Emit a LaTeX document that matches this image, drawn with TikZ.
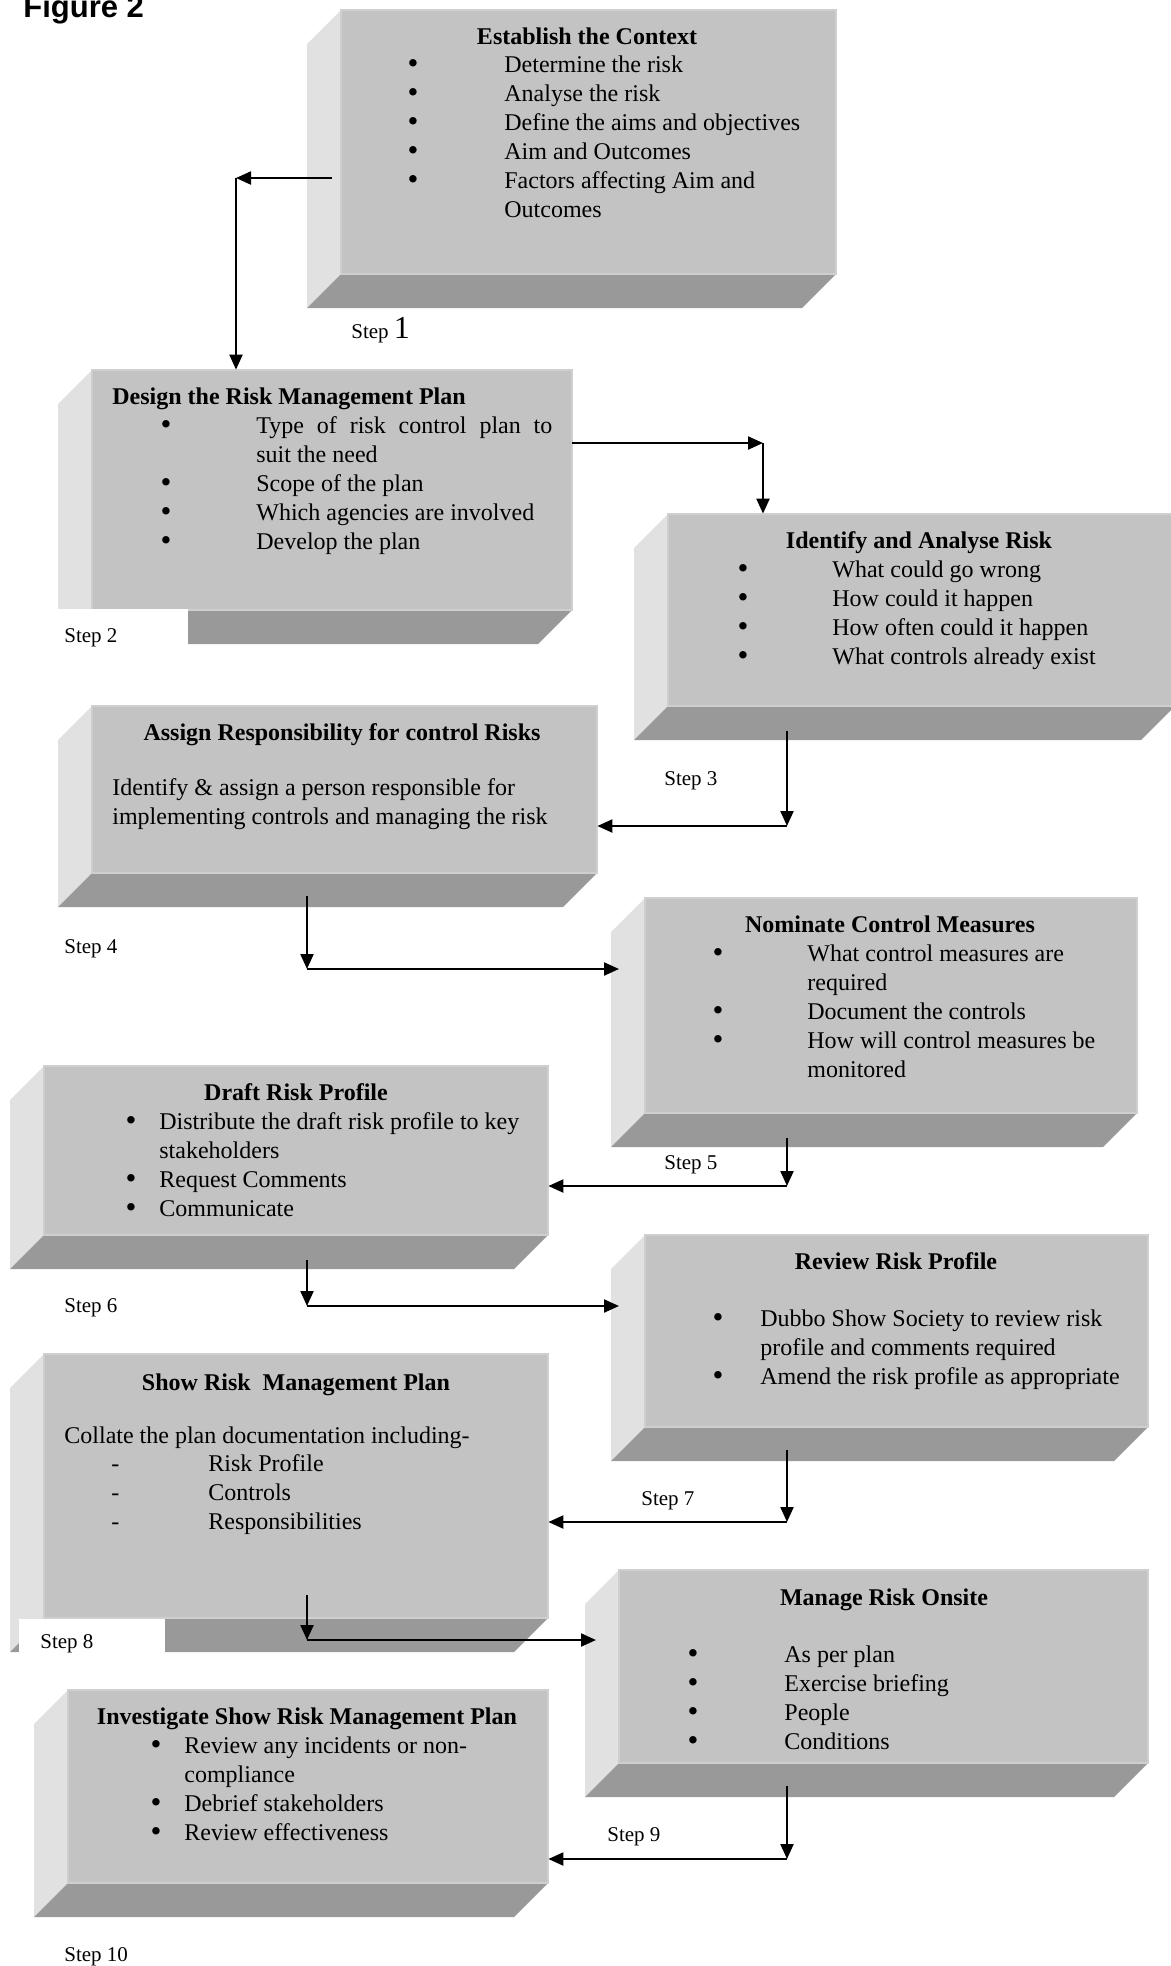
\documentclass[tikz,border=0pt]{standalone}
\usepackage{fontspec}
\setmainfont{Liberation Serif}
\newfontfamily\figfont{Liberation Sans}
\usetikzlibrary{arrows.meta,fit,calc}
\definecolor{frontgray}{RGB}{195,195,195}
\definecolor{sidegray}{RGB}{225,225,225}
\definecolor{botgray}{RGB}{153,153,153}
\definecolor{edgegray}{RGB}{207,207,207}
\newcommand\bevbox[5]{%
  \fill[sidegray] (#2,#3+34) -- (#2+34,#3) -- (#2+34,#5-34) -- (#2,#5) -- cycle;
  \fill[botgray] (#2,#5) -- (#2+34,#5-34) -- (#4,#5-34) -- (#4-34,#5) -- cycle;
  \filldraw[fill=frontgray,draw=edgegray,line width=0.6pt] (#2+34,#3) rectangle (#4,#5-34);
  \node[fit={(#2,#3) (#4,#5)}, inner sep=0pt] (#1) {};
}
\newcommand\bl{\hspace*{-0.4pt}\raisebox{-0.5pt}{\fontsize{15.5}{14.5}\selectfont\textbullet}}
\tikzset{
  body/.style={inner sep=0pt, anchor=base west, font=\fontsize{12}{14.5}\selectfont},
  ttl/.style={inner sep=0pt, anchor=base, font=\fontsize{12}{14.5}\selectfont\bfseries},
  ttlw/.style={inner sep=0pt, anchor=base west, font=\fontsize{12}{14.5}\selectfont\bfseries},
  steplbl/.style={inner sep=0pt, anchor=base west, font=\fontsize{10.5}{12}\selectfont},
  arr/.style={line width=1.1pt, -{Triangle[length=7.5pt,width=6.5pt]}},
}
\begin{document}
\begin{tikzpicture}[x=0.5pt,y=-0.5pt]
\useasboundingbox (0,0) rectangle (1171,1966);

% boxes
\bevbox{b1}{307}{10}{836}{308}
\bevbox{b2}{58}{370}{572}{644}
\bevbox{b3}{634}{514}{1175}{740}
\bevbox{b4}{58}{706}{597}{907}
\bevbox{b5}{611}{898}{1137}{1147}
\bevbox{b6}{10}{1066}{548}{1269}
\bevbox{b7}{611}{1235}{1148}{1461}
\bevbox{b8}{10}{1354}{548}{1652}
\bevbox{b9}{585}{1570}{1148}{1797}
\bevbox{b10}{34}{1690}{548}{1917}

% white label patches
\fill[white] (50,609) rectangle (188,662);
\fill[white] (19,1619) rectangle (165,1662);

% title
\node[inner sep=0pt, anchor=base west, font=\figfont\bfseries\fontsize{15.5}{18}\selectfont] (fig) at (23,17) {Figure 2};

% box 1
\node[ttl] (h1) at (587,44) {Establish the Context};
\node[body] (t1) at (408,72) {\begin{tabular}[t]{@{}p{48pt}@{}l@{}}
\bl & Determine the risk\\
\bl & Analyse the risk\\
\bl & Define the aims and objectives\\
\bl & Aim and Outcomes\\
\bl & Factors affecting Aim and\\
 & Outcomes
\end{tabular}};

% box 2
\node[ttlw] (h2) at (112,404) {Design the Risk Management Plan};
\node[body] (t2) at (161,433) {\begin{tabular}[t]{@{}p{47.5pt}@{}l@{}}
\bl & \makebox[148pt][s]{Type of risk control plan to}\\
 & suit the need\\
\bl & Scope of the plan\\
\bl & Which agencies are involved\\
\bl & Develop the plan
\end{tabular}};

% box 3
\node[ttl] (h3) at (919,548) {Identify and Analyse Risk};
\node[body] (t3) at (738,577) {\begin{tabular}[t]{@{}p{47pt}@{}l@{}}
\bl & What could go wrong\\
\bl & How could it happen\\
\bl & How often could it happen\\
\bl & What controls already exist
\end{tabular}};

% box 4
\node[ttl] (h4) at (342,740) {Assign Responsibility for control Risks};
\node[body] (t4) at (112,795) {\begin{tabular}[t]{@{}l@{}}
Identify \& assign a person responsible for\\
implementing controls and managing the risk
\end{tabular}};

% box 5
\node[ttl] (h5) at (890,932) {Nominate Control Measures};
\node[body] (t5) at (713,961) {\begin{tabular}[t]{@{}p{47pt}@{}l@{}}
\bl & What control measures are\\
 & required\\
\bl & Document the controls\\
\bl & How will control measures be\\
 & monitored
\end{tabular}};

% box 6
\node[ttl] (h6) at (296,1100) {Draft Risk Profile};
\node[body] (t6) at (126,1129) {\begin{tabular}[t]{@{}p{16.5pt}@{}l@{}}
\bl & Distribute the draft risk profile to key\\
 & stakeholders\\
\bl & Request Comments\\
\bl & Communicate
\end{tabular}};

% box 7
\node[ttl] (h7) at (896,1269) {Review Risk Profile};
\node[body] (t7) at (713,1326) {\begin{tabular}[t]{@{}p{23.5pt}@{}l@{}}
\bl & Dubbo Show Society to review risk\\
 & profile and comments required\\
\bl & Amend the risk profile as appropriate
\end{tabular}};

% box 8
\node[ttl] (h8) at (296,1390) {Show Risk\ \ Management Plan};
\node[body] (t8a) at (64,1443) {Collate the plan documentation including-};
\node[body] (t8) at (111,1471) {\begin{tabular}[t]{@{}p{48.5pt}@{}l@{}}
- & Risk Profile\\
- & Controls\\
- & Responsibilities
\end{tabular}};

% box 9
\node[ttl] (h9) at (884,1605) {Manage Risk Onsite};
\node[body] (t9) at (688,1662) {\begin{tabular}[t]{@{}p{48pt}@{}l@{}}
\bl & As per plan\\
\bl & Exercise briefing\\
\bl & People\\
\bl & Conditions
\end{tabular}};

% box 10
\node[ttl] (h10) at (307,1724) {Investigate Show Risk Management Plan};
\node[body] (t10) at (151,1753) {\begin{tabular}[t]{@{}p{16.5pt}@{}l@{}}
\bl & Review any incidents or non-\\
 & compliance\\
\bl & Debrief stakeholders\\
\bl & Review effectiveness
\end{tabular}};

% step labels
\node[steplbl] (st1) at (351,338) {Step {\fontsize{16}{18}\selectfont 1}};
\node[steplbl] (st2) at (64,642) {Step 2};
\node[steplbl] (st3) at (664,785) {Step 3};
\node[steplbl] (st4) at (64,953) {Step 4};
\node[steplbl] (st5) at (664,1169) {Step 5};
\node[steplbl] (st6) at (64,1312) {Step 6};
\node[steplbl] (st7) at (641,1505) {Step 7};
\node[steplbl] (st8) at (40,1648) {Step 8};
\node[steplbl] (st9) at (607,1841) {Step 9};
\node[steplbl] (st10) at (64,1961) {Step 10};

% connectors
\coordinate (s1) at (332,178);
\coordinate (k1) at (236,178);
\draw[arr] (s1) -- (k1);
\draw[arr] (k1) -- (k1 |- b2.north);

\coordinate (k2) at (763,443);
\draw[arr] (b2.east |- k2) -- (k2);
\draw[arr] (k2) -- (k2 |- b3.north);

\coordinate (s3) at (787,731);
\coordinate (k3) at (787,826);
\draw[arr] (s3) -- (k3);
\draw[arr] (k3) -- (k3 -| b4.east);

\coordinate (s4) at (307,896);
\coordinate (k4) at (307,969);
\coordinate (e4) at (619,969);
\draw[arr] (s4) -- (k4);
\draw[arr] (k4) -- (e4);

\coordinate (s5) at (787,1138);
\coordinate (k5) at (787,1186);
\draw[arr] (s5) -- (k5);
\draw[arr] (k5) -- (k5 -| b6.east);

\coordinate (s6) at (307,1260);
\coordinate (k6) at (307,1306);
\coordinate (e6) at (619,1306);
\draw[arr] (s6) -- (k6);
\draw[arr] (k6) -- (e6);

\coordinate (s7) at (787,1450);
\coordinate (k7) at (787,1522);
\draw[arr] (s7) -- (k7);
\draw[arr] (k7) -- (k7 -| b8.east);

\coordinate (s8) at (307,1595);
\coordinate (k8) at (307,1640);
\coordinate (e8) at (596,1640);
\draw[arr] (s8) -- (k8);
\draw[arr] (k8) -- (e8);

\coordinate (s9) at (787,1786);
\coordinate (k9) at (787,1859);
\draw[arr] (s9) -- (k9);
\draw[arr] (k9) -- (k9 -| b10.east);
\end{tikzpicture}
\end{document}
